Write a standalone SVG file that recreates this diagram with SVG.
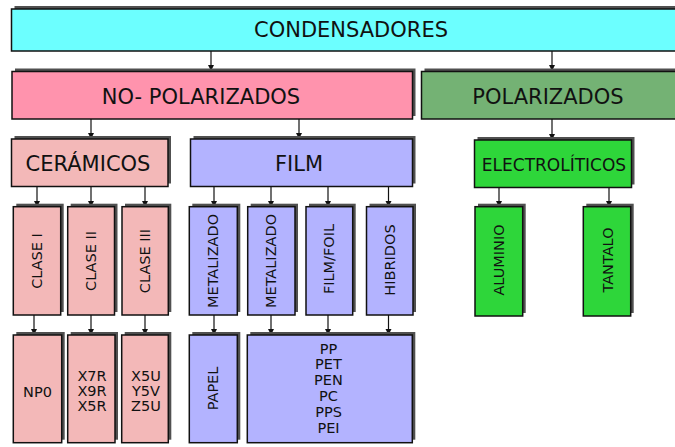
<svg xmlns="http://www.w3.org/2000/svg" width="675" height="447" viewBox="0 0 675 447">
<defs>
<style>
.sh{fill:#505050;}
.bx{stroke:#111;stroke-width:1.5;}
.t{font-family:"DejaVu Sans",Verdana,sans-serif;fill:#111;text-anchor:middle;}
.big{font-size:21px;}
.mid{font-size:17px;}
.sm{font-size:14.5px;}
.cy{fill:#6CFFFF;}
.pk{fill:#FF93AD;}
.gr{fill:#74B274;}
.lp{fill:#F3B8B8;}
.bl{fill:#B3B3FF;}
.gg{fill:#2ED63A;}
.c line{stroke:#111;stroke-width:1.2;marker-end:url(#ah);}
</style>
<marker id="ah" markerWidth="7" markerHeight="7" refX="6" refY="3" orient="auto" markerUnits="userSpaceOnUse">
<path d="M0,0 L6,3 L0,6 z" fill="#111"/>
</marker>
</defs>
<rect width="675" height="447" fill="#fff"/>

<g class="c">
<line x1="211" y1="51" x2="211" y2="71"/>
<line x1="552" y1="51" x2="552" y2="71"/>
<line x1="91" y1="119" x2="91" y2="139"/>
<line x1="299" y1="119" x2="299" y2="139"/>
<line x1="552" y1="119" x2="552" y2="140"/>
<line x1="37" y1="187" x2="37" y2="207"/>
<line x1="91" y1="187" x2="91" y2="207"/>
<line x1="145" y1="187" x2="145" y2="207"/>
<line x1="214" y1="187" x2="214" y2="207"/>
<line x1="271" y1="187" x2="271" y2="207"/>
<line x1="328" y1="187" x2="328" y2="207"/>
<line x1="388.5" y1="187" x2="388.5" y2="207"/>
<line x1="499" y1="188" x2="499" y2="207"/>
<line x1="609" y1="188" x2="609" y2="207"/>
<line x1="34" y1="315" x2="34" y2="335"/>
<line x1="91" y1="315" x2="91" y2="335"/>
<line x1="145" y1="315" x2="145" y2="335"/>
<line x1="214" y1="315" x2="214" y2="335"/>
<line x1="271" y1="315" x2="271" y2="335"/>
<line x1="328" y1="315" x2="328" y2="335"/>
<line x1="388.5" y1="315" x2="388.5" y2="335"/>
</g>

<g id="condensadores">
<rect class="sh" x="14.5" y="6" width="690" height="42"/>
<rect class="bx cy" x="11.5" y="9" width="690" height="42"/>
<text class="t big" x="351" y="37">CONDENSADORES</text>
</g>
<g id="no-polarizados">
<rect class="sh" x="15" y="68.5" width="400.5" height="47.5"/>
<rect class="bx pk" x="12" y="71.5" width="400.5" height="47.5"/>
<text class="t big" x="201" y="104">NO- POLARIZADOS</text>
</g>
<g id="polarizados">
<rect class="sh" x="424.5" y="68.5" width="270" height="47.5"/>
<rect class="bx gr" x="421.5" y="71.5" width="270" height="47.5"/>
<text class="t big" x="548" y="104">POLARIZADOS</text>
</g>
<g id="ceramicos">
<rect class="sh" x="14.5" y="136" width="156.5" height="47.5"/>
<rect class="bx lp" x="11.5" y="139" width="156.5" height="47.5"/>
<text class="t big" x="88" y="171">CERÁMICOS</text>
</g>
<g id="film">
<rect class="sh" x="193.5" y="136" width="222" height="47.5"/>
<rect class="bx bl" x="190.5" y="139" width="222" height="47.5"/>
<text class="t big" x="299" y="171">FILM</text>
</g>
<g id="electroliticos">
<rect class="sh" x="477.5" y="137" width="157" height="47.5"/>
<rect class="bx gg" x="474.5" y="140" width="157" height="47.5"/>
<text class="t mid" x="554" y="170.5">ELECTROLÍTICOS</text>
</g>

<g id="clase1">
<rect class="sh" x="16.3" y="203.7" width="47.4" height="108.3"/>
<rect class="bx lp" x="13.3" y="206.7" width="47.4" height="108.3"/>
<text class="t sm" transform="translate(37,261) rotate(-90)" dy="0.36em">CLASE I</text>
</g>
<g id="clase2">
<rect class="sh" x="70.7" y="203.7" width="46.8" height="108.3"/>
<rect class="bx lp" x="67.7" y="206.7" width="46.8" height="108.3"/>
<text class="t sm" transform="translate(91,261) rotate(-90)" dy="0.36em">CLASE II</text>
</g>
<g id="clase3">
<rect class="sh" x="125" y="203.7" width="46.3" height="108.3"/>
<rect class="bx lp" x="122" y="206.7" width="46.3" height="108.3"/>
<text class="t sm" transform="translate(145,261) rotate(-90)" dy="0.36em">CLASE III</text>
</g>
<g id="metalizado1">
<rect class="sh" x="192.3" y="203.7" width="48" height="108.3"/>
<rect class="bx bl" x="189.3" y="206.7" width="48" height="108.3"/>
<text class="t sm" transform="translate(213,261) rotate(-90)" dy="0.36em">METALIZADO</text>
</g>
<g id="metalizado2">
<rect class="sh" x="250.7" y="203.7" width="47.3" height="108.3"/>
<rect class="bx bl" x="247.7" y="206.7" width="47.3" height="108.3"/>
<text class="t sm" transform="translate(271,261) rotate(-90)" dy="0.36em">METALIZADO</text>
</g>
<g id="filmfoil">
<rect class="sh" x="309" y="203.7" width="46.7" height="108.3"/>
<rect class="bx bl" x="306" y="206.7" width="46.7" height="108.3"/>
<text class="t sm" transform="translate(329,259) rotate(-90)" dy="0.36em">FILM/FOIL</text>
</g>
<g id="hibridos">
<rect class="sh" x="369.5" y="203.7" width="46.5" height="108.3"/>
<rect class="bx bl" x="366.5" y="206.7" width="46.5" height="108.3"/>
<text class="t sm" transform="translate(390,260) rotate(-90)" dy="0.36em">HIBRIDOS</text>
</g>
<g id="aluminio">
<rect class="sh" x="478" y="203.7" width="47.7" height="109.3"/>
<rect class="bx gg" x="475" y="206.7" width="47.7" height="109.3"/>
<text class="t sm" transform="translate(499,260) rotate(-90)" dy="0.36em">ALUMINIO</text>
</g>
<g id="tantalo">
<rect class="sh" x="586.3" y="203.7" width="47.4" height="109.3"/>
<rect class="bx gg" x="583.3" y="206.7" width="47.4" height="109.3"/>
<text class="t sm" transform="translate(607.5,260) rotate(-90)" dy="0.36em">TANTALO</text>
</g>

<g id="np0">
<rect class="sh" x="16.3" y="332" width="48.4" height="107.7"/>
<rect class="bx lp" x="13.3" y="335" width="48.4" height="107.7"/>
<text class="t sm" x="37.5" y="397">NP0</text>
</g>
<g id="x7r">
<rect class="sh" x="70.7" y="332" width="47.3" height="107.7"/>
<rect class="bx lp" x="67.7" y="335" width="47.3" height="107.7"/>
<text class="t sm" x="92" y="381">X7R</text>
<text class="t sm" x="92" y="396">X9R</text>
<text class="t sm" x="92" y="411">X5R</text>
</g>
<g id="x5u">
<rect class="sh" x="124.7" y="332" width="46.6" height="107.7"/>
<rect class="bx lp" x="121.7" y="335" width="46.6" height="107.7"/>
<text class="t sm" x="146" y="381">X5U</text>
<text class="t sm" x="146" y="396">Y5V</text>
<text class="t sm" x="146" y="411">Z5U</text>
</g>
<g id="papel">
<rect class="sh" x="192.3" y="332" width="48" height="107.7"/>
<rect class="bx bl" x="189.3" y="335" width="48" height="107.7"/>
<text class="t sm" transform="translate(213,388.5) rotate(-90)" dy="0.36em">PAPEL</text>
</g>
<g id="polimeros">
<rect class="sh" x="250.3" y="332" width="165" height="107.7"/>
<rect class="bx bl" x="247.3" y="335" width="165" height="107.7"/>
<text class="t sm" x="328.5" y="353.5">PP</text>
<text class="t sm" x="328.5" y="369.3">PET</text>
<text class="t sm" x="328.5" y="385.1">PEN</text>
<text class="t sm" x="328.5" y="400.9">PC</text>
<text class="t sm" x="328.5" y="416.7">PPS</text>
<text class="t sm" x="328.5" y="432.5">PEI</text>
</g>
</svg>
